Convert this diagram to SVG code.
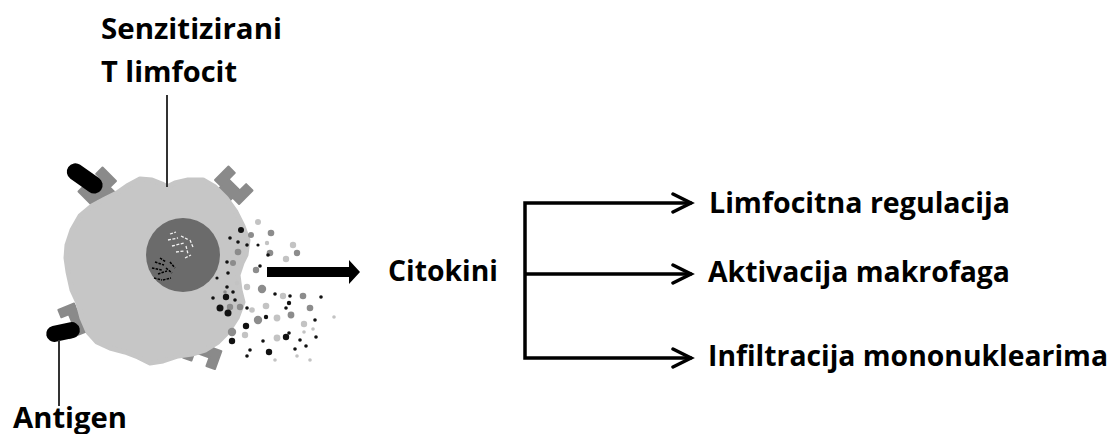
<svg xmlns="http://www.w3.org/2000/svg" width="1113" height="434" viewBox="0 0 1113 434">
<style>
.t{font-family:"Open Sans","Liberation Sans",sans-serif;font-weight:700;font-size:29px;fill:#000}
.conn{fill:none;stroke:#000;stroke-width:3.5;stroke-linecap:square}
.head{fill:none;stroke:#000;stroke-width:3.5;stroke-linecap:round;stroke-linejoin:miter}
.lead{stroke:#333;stroke-width:2}
.rec{fill:#8a8a8a;stroke:#8a8a8a;stroke-width:2;stroke-linejoin:round}
.ag{fill:#000}
.k{fill:#111}
.g{fill:#8c8c8c}
.l{fill:#c3c3c3}
.wd{stroke:#f2f2f2;stroke-width:1.3;fill:none;stroke-dasharray:3 1.5}
.bd{stroke:#000;stroke-width:1.5;fill:none;stroke-dasharray:2.5 1.2}
</style>
<defs>
<path id="cup" d="M-17,-12 L-8,-12 L-8,-3 L8,-3 L8,-12 L17,-12 L17,7 L8,7 L8,18 L-8,18 L-8,7 L-17,7 Z"/>
</defs>
<rect width="1113" height="434" fill="#fff"/>

<g id="cell">
<use href="#cup" class="rec" transform="translate(99,188) rotate(-45)"/>
<use href="#cup" class="rec" transform="translate(232,187) rotate(45)"/>
<use href="#cup" class="rec" transform="translate(74,320) rotate(-112) scale(0.9)"/>
<use href="#cup" class="rec" transform="translate(203,352) rotate(200)"/>
<polygon fill="#c6c6c6" stroke="#c6c6c6" stroke-width="5" stroke-linejoin="round" points="117,193 127,186 140,179 152,180 162,184 167,187 175,183 188,180 203,180 215,187 226,198 236,212 243,226 248,240 246,255 242,263 238,275 240,290 243,302 237,318 228,332 218,342 205,350 192,354 178,356 163,361 150,363 138,357 125,352 110,348 97,342 88,332 82,318 78,303 72,290 68,272 66,258 67,245 72,230 80,216 92,206 105,199"/>
<circle cx="183" cy="255" r="37" fill="#6b6b6b"/>
<path class="wd" d="M168,240 l10,-2 M172,246 l12,-3 M181,236 l8,4 M186,246 l2,8 M176,252 l8,-1 M190,240 l3,7 M170,234 l6,-2 M185,258 l6,-3"/>
<path class="bd" d="M155,262 l9,3 M152,268 l10,2 M158,274 l9,-3 M166,268 l6,5 M154,278 l8,2 M163,280 l8,-2 M160,258 l6,4 M170,262 l5,6"/>
</g>

<g id="antigens">
<rect class="ag" x="65" y="170" width="40" height="17" rx="8.5" transform="rotate(35 85 178)"/>
<rect class="ag" x="46" y="324" width="34" height="16" rx="8" transform="rotate(-12 63 332)"/>
</g>

<g id="cytokines">
<circle class="l" cx="258" cy="222" r="3"/>
<circle class="k" cx="241" cy="230" r="3"/>
<circle class="g" cx="251" cy="235" r="3"/>
<circle class="g" cx="271" cy="233" r="3.3"/>
<circle class="k" cx="230" cy="238" r="1.8"/>
<circle class="k" cx="238" cy="242" r="1.8"/>
<circle class="k" cx="247" cy="245" r="1.8"/>
<circle class="k" cx="258" cy="245" r="1.6"/>
<circle class="l" cx="267" cy="243" r="2.2"/>
<circle class="l" cx="293" cy="245" r="3.2"/>
<circle class="g" cx="297" cy="253" r="3.2"/>
<circle class="g" cx="270" cy="253" r="3.3"/>
<circle class="k" cx="268" cy="255" r="1.8"/>
<circle class="l" cx="286" cy="259" r="3.2"/>
<circle class="g" cx="238" cy="252" r="3.3"/>
<circle class="k" cx="227" cy="262" r="1.8"/>
<circle class="g" cx="233" cy="263" r="3"/>
<circle class="g" cx="256" cy="270" r="3.2"/>
<circle class="k" cx="260" cy="266" r="1.8"/>
<circle class="k" cx="228" cy="273" r="1.8"/>
<circle class="k" cx="217" cy="278" r="1.6"/>
<circle class="l" cx="237" cy="283" r="2.2"/>
<circle class="l" cx="247" cy="287" r="3.2"/>
<circle class="g" cx="262" cy="289" r="4.2"/>
<circle class="k" cx="227" cy="287" r="1.8"/>
<circle class="g" cx="225" cy="292" r="1.8"/>
<circle class="k" cx="233" cy="292" r="1.8"/>
<circle class="k" cx="226" cy="297" r="3.2"/>
<circle class="k" cx="213" cy="298" r="1.8"/>
<circle class="k" cx="235" cy="300" r="1.8"/>
<circle class="k" cx="275" cy="294" r="1.8"/>
<circle class="l" cx="283" cy="296" r="3.2"/>
<circle class="k" cx="290" cy="296" r="1.8"/>
<circle class="g" cx="303" cy="296" r="3.3"/>
<circle class="k" cx="321" cy="297" r="1.8"/>
<circle class="k" cx="289" cy="303" r="2.2"/>
<circle class="l" cx="266" cy="306" r="3.3"/>
<circle class="k" cx="286" cy="308" r="1.8"/>
<circle class="g" cx="310" cy="308" r="3.3"/>
<circle class="k" cx="220" cy="308" r="3.5"/>
<circle class="g" cx="230" cy="307" r="3.2"/>
<circle class="g" cx="240" cy="307" r="3.2"/>
<circle class="k" cx="247" cy="308" r="1.8"/>
<circle class="l" cx="252" cy="310" r="2.8"/>
<circle class="k" cx="228" cy="313" r="3.5"/>
<circle class="g" cx="291" cy="315" r="3.4"/>
<circle class="k" cx="266" cy="317" r="2.2"/>
<circle class="l" cx="334" cy="317" r="1.8"/>
<circle class="g" cx="258" cy="320" r="4.2"/>
<circle class="l" cx="277" cy="318" r="3.4"/>
<circle class="k" cx="315" cy="320" r="1.8"/>
<circle class="l" cx="304" cy="324" r="3.2"/>
<circle class="k" cx="246" cy="326" r="3.2"/>
<circle class="g" cx="232" cy="332" r="4.2"/>
<circle class="l" cx="245" cy="335" r="3.2"/>
<circle class="l" cx="313" cy="329" r="1.8"/>
<circle class="k" cx="289" cy="333" r="1.8"/>
<circle class="l" cx="304" cy="332" r="1.8"/>
<circle class="k" cx="316" cy="337" r="1.8"/>
<circle class="k" cx="232" cy="341" r="3.2"/>
<circle class="k" cx="263" cy="341" r="1.8"/>
<circle class="l" cx="277" cy="338" r="3.4"/>
<circle class="k" cx="286" cy="337" r="3.2"/>
<circle class="k" cx="300" cy="340" r="1.8"/>
<circle class="k" cx="306" cy="346" r="1.8"/>
<circle class="k" cx="295" cy="349" r="1.8"/>
<circle class="k" cx="250" cy="350" r="1.8"/>
<circle class="k" cx="247" cy="356" r="1.8"/>
<circle class="k" cx="269" cy="352" r="3.2"/>
<circle class="l" cx="275" cy="360" r="1.8"/>
<circle class="l" cx="297" cy="356" r="1.8"/>
<circle class="l" cx="310" cy="360" r="1.8"/>
</g>

<g id="connectors">
<line class="lead" x1="167" y1="95" x2="167" y2="187"/>
<line class="lead" x1="59" y1="340" x2="59" y2="406"/>
<path d="M267,267 L349,267 L349,260 L360,272 L349,284 L349,277 L267,277 Z" fill="#000"/>
<path class="conn" d="M525,203 L525,358 M525,203 L690,203 M525,274 L690,274 M525,358 L690,358"/>
<path class="head" d="M673,194 L691,203 L673,212 M673,265 L691,274 L673,283 M673,349 L691,358 L673,367"/>
</g>

<g id="label-tcell"><text class="t" x="101" y="39" textLength="181" lengthAdjust="spacingAndGlyphs">Senzitizirani</text>
<text class="t" x="101" y="82" textLength="136" lengthAdjust="spacingAndGlyphs">T limfocit</text></g>
<g id="label-antigen"><text class="t" x="13" y="428" textLength="114" lengthAdjust="spacingAndGlyphs">Antigen</text></g>
<g id="node-citokini"><text class="t" x="388" y="281" textLength="110" lengthAdjust="spacingAndGlyphs">Citokini</text></g>
<g id="node-limfocitna"><text class="t" x="709" y="213" textLength="301" lengthAdjust="spacingAndGlyphs">Limfocitna regulacija</text></g>
<g id="node-aktivacija"><text class="t" x="708" y="282" textLength="302" lengthAdjust="spacingAndGlyphs">Aktivacija makrofaga</text></g>
<g id="node-infiltracija"><text class="t" x="708" y="366" textLength="400" lengthAdjust="spacingAndGlyphs">Infiltracija mononuklearima</text></g>
</svg>
